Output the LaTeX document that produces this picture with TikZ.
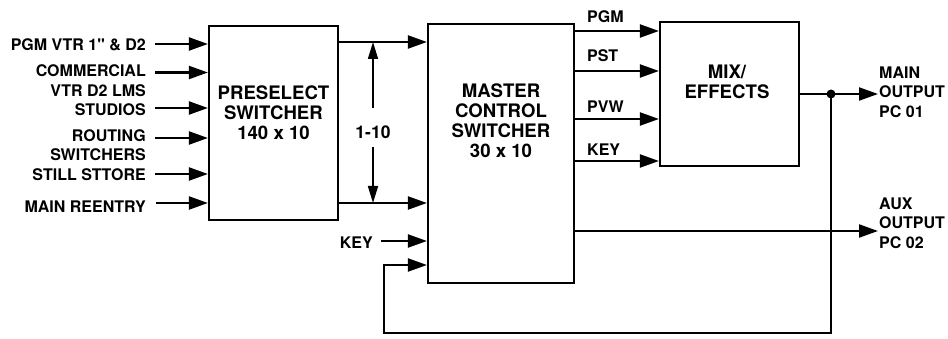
\documentclass[tikz,border=0pt]{standalone}
\usepackage{fontspec}
\setmainfont{TeX Gyre Heros}
\newfontfamily\noligfont[Ligatures=TeXOff]{TeX Gyre Heros}
\usetikzlibrary{arrows.meta}
\begin{document}
\begin{tikzpicture}[x=1pt,y=-1pt,
  box/.style={draw, line width=2.2pt, inner sep=0pt, rectangle},
  arr/.style={line width=2.2pt, -{Triangle[length=19pt,width=13pt]}},
  arrb/.style={line width=1.6pt, -{Triangle[length=17pt,width=10pt]}},
  lbl/.style={font=\fontsize{16}{19.5}\selectfont\bfseries, inner sep=0pt},
  btxt/.style={font=\fontsize{18.6}{20}\selectfont\bfseries, inner sep=0pt, align=center},
  dot/.style={circle, fill, inner sep=0pt, minimum size=9pt},
]
\useasboundingbox (0,0) rectangle (948,339);

% boxes
\node[box, minimum width=129pt, minimum height=194pt] (pre) at (273.5,123) {};
\node[box, minimum width=146pt, minimum height=259pt] (mcs) at (501,153.5) {};
\node[box, minimum width=139pt, minimum height=144pt] (mix) at (729.5,94) {};

\node[btxt] (pret) at (273.5,113) {PRESELECT\\SWITCHER\\140 x 10};
\node[btxt] (mcst) at (501,121) {MASTER\\CONTROL\\SWITCHER\\30 x 10};
\node[btxt] (mixt) at (727,82) {MIX/\\EFFECTS};

% input labels
\node[lbl, anchor=east] (i1) at (146,45) {PGM VTR 1{\noligfont\bfseries "} \& D2};
\node[lbl, anchor=east, align=right] (i2) at (146,80.5) {COMMERCIAL\\VTR D2 LMS};
\node[lbl, anchor=east] (i3) at (146,110) {STUDIOS};
\node[lbl, anchor=east, align=right] (i4) at (146,145) {ROUTING\\SWITCHERS};
\node[lbl, anchor=east] (i5) at (146,175) {STILL STTORE};
\node[lbl, anchor=east] (i6) at (146,207) {MAIN REENTRY};

\coordinate (s1) at (155,44);
\coordinate (s2) at (155,72.5);
\coordinate (s3) at (155,108);
\coordinate (s4) at (155,138);
\coordinate (s5) at (155,174);
\coordinate (s6) at (156,203);
\foreach \s in {s1,s2,s3,s4,s5,s6}
  \draw[arr] (\s) -- (\s -| pre.west);

% preselect -> master
\coordinate (c1) at (0,42);
\coordinate (c2) at (0,203);
\draw[arr] (pre.east |- c1) -- (mcs.west |- c1);
\draw[arr] (pre.east |- c2) -- (mcs.west |- c2);

\node[font=\fontsize{17.5}{20}\selectfont\bfseries, inner sep=0pt] (n110) at (373,132) {1-10};
\draw[arrb, shorten <=17pt] (n110.north) -- (n110.north |- c1);
\draw[arrb, shorten <=8pt] (n110.south) -- (n110.south |- c2);

% KEY into master
\node[lbl, anchor=east] (keyl) at (373,243) {KEY};
\coordinate (k0) at (381,241);
\draw[arr] (k0) -- (k0 -| mcs.west);

% master -> mix
\coordinate (m1) at (0,31);
\coordinate (m2) at (0,71);
\coordinate (m3) at (0,119);
\coordinate (m4) at (0,161);
\foreach \m in {m1,m2,m3,m4}
  \draw[arr] (mcs.east |- \m) -- (mix.west |- \m);
\node[lbl, anchor=west] (pgm) at (587,17) {PGM};
\node[lbl, anchor=west] (pst) at (587,56) {PST};
\node[lbl, anchor=west] (pvw) at (587,107) {PVW};
\node[lbl, anchor=west] (key2) at (587,150) {KEY};

% main output
\node[dot] (jn) at (831,94) {};
\coordinate (mo) at (878,94);
\draw[arr] (mix.east) -- (mo);
\node[lbl, anchor=west, align=left] (mainl) at (879,92) {MAIN\\OUTPUT\\PC 01};

% aux output
\coordinate (ao) at (878,231);
\draw[arr] (mcs.east |- ao) -- (ao);
\node[lbl, anchor=west, align=left] (auxl) at (879,223) {AUX\\OUTPUT\\PC 02};

% feedback
\coordinate (fb1) at (831,333);
\coordinate (fb2) at (384,333);
\coordinate (fb3) at (384,265);
\draw[arr, line join=miter] (jn.center) -- (fb1) -- (fb2) -- (fb3) -- (fb3 -| mcs.west);
\end{tikzpicture}
\end{document}
